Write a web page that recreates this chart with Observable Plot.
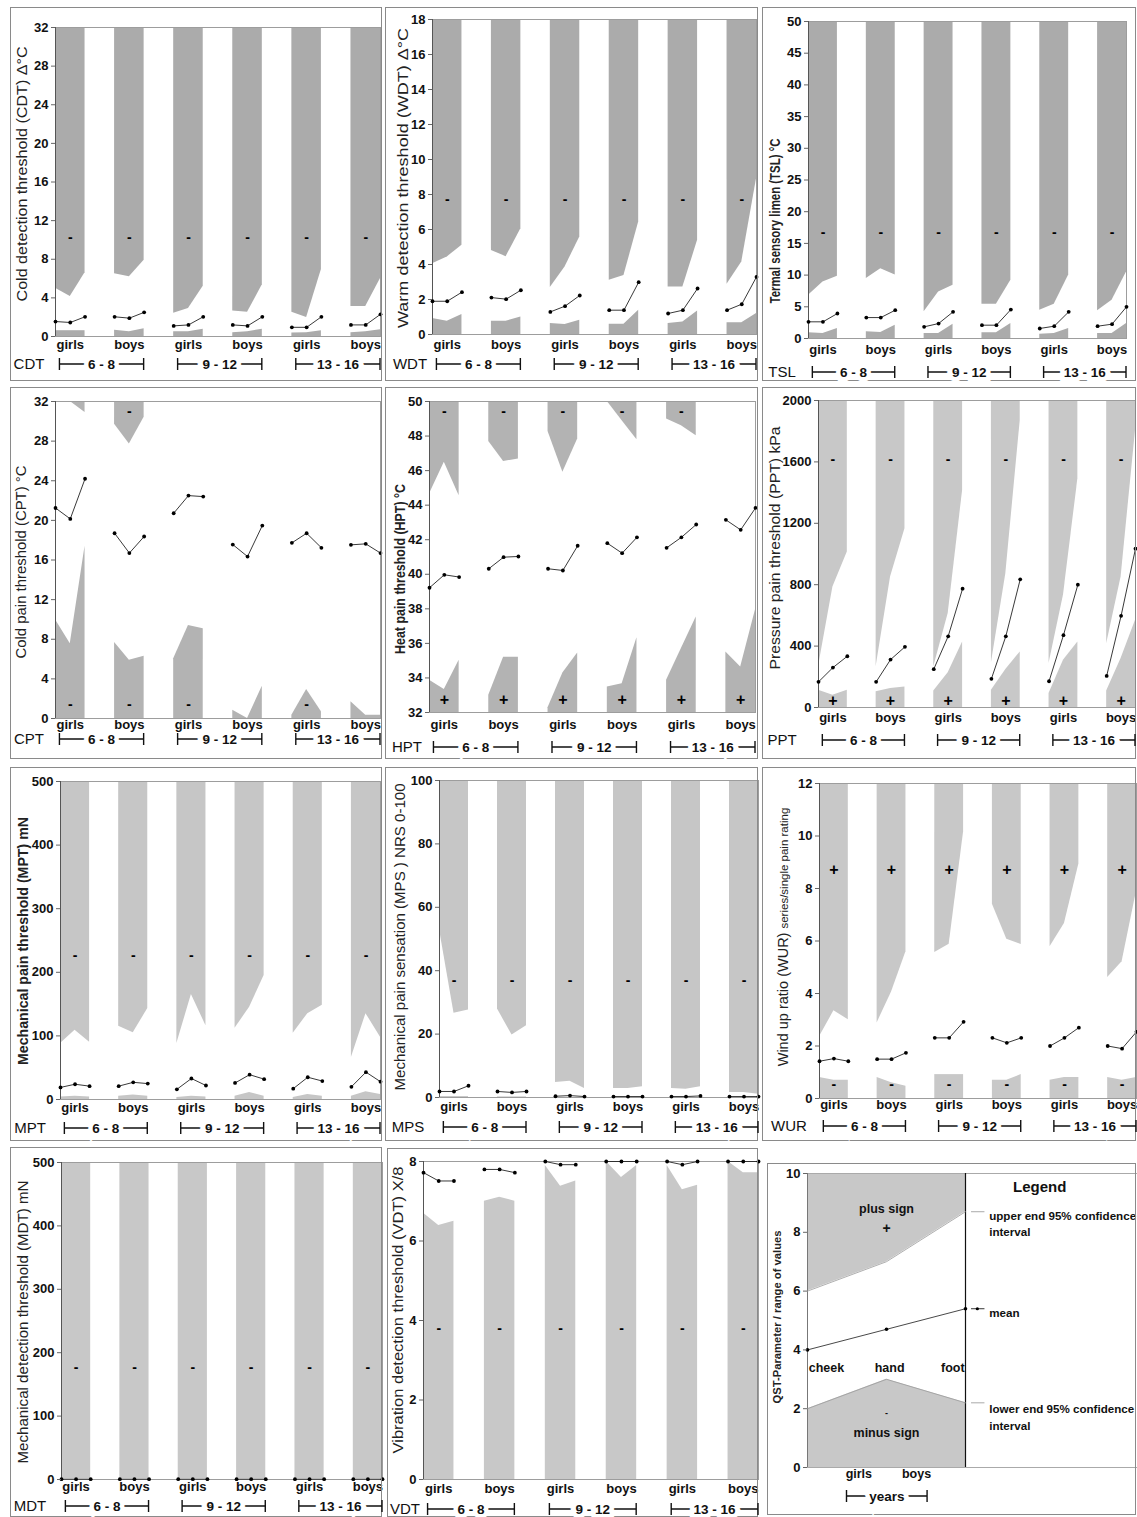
<!DOCTYPE html>
<html><head><meta charset="utf-8">
<script src="https://cdn.jsdelivr.net/npm/d3@7"></script>
<script src="https://cdn.jsdelivr.net/npm/@observablehq/plot@0.6"></script>
<style>
body{margin:0;background:#fff;width:1137px;height:1517px;position:relative;overflow:hidden;font-family:"Liberation Sans",Arial,sans-serif}
svg.panel{position:absolute}
</style></head><body>
<script>
// ---------- categories ----------
const groupSex = ["girls","boys","girls","boys","girls","boys"];
const ageGroups = ["6 - 8","9 - 12","13 - 16"];
const sites = ["cheek","hand","foot"];

// ---------- data: 6 groups x (cheek, hand, foot) ----------
const CDT_upper = [5.0,4.15,6.6, 6.5,6.2,7.9, 2.4,2.9,5.2, 2.65,2.5,5.35, 2.5,1.97,6.95, 3.1,3.1,6.0];
const CDT_mean  = [1.55,1.45,2.04, 2.04,1.9,2.5, 1.1,1.2,2.04, 1.2,1.1,2.04, 0.95,0.95,2.04, 1.2,1.2,2.3];
const CDT_lower = [0.6,0.6,0.6, 0.65,0.5,0.8, 0.5,0.5,0.75, 0.4,0.5,0.75, 0.35,0.4,0.6, 0.4,0.5,0.7];
const CDT_ticks = [0,4,8,12,16,20,24,28,32];
const CDT_minus = 10.3;

const WDT_upper = [4.05,4.43,5.1, 4.8,4.45,6.05, 2.68,3.86,5.57, 3.1,3.37,6.43, 2.72,2.72,5.38, 2.87,4.15,8.9];
const WDT_mean  = [1.9,1.9,2.42, 2.11,2.02,2.53, 1.29,1.62,2.23, 1.39,1.39,2.99, 1.2,1.39,2.63, 1.39,1.73,3.29];
const WDT_lower = [0.91,0.76,1.14, 0.76,0.76,1.0, 0.63,0.57,0.82, 0.59,0.59,1.39, 0.63,0.72,1.35, 0.67,0.67,1.2];
const WDT_ticks = [0,2,4,6,8,10,12,14,16,18];
const WDT_minus = 7.72;

const TSL_upper = [6.83,8.9,9.8, 9.45,11.0,10.0, 4.2,7.35,8.4, 5.4,5.4,9.2, 4.46,5.4,10.0, 4.36,6.04,10.5];
const TSL_mean  = [2.63,2.63,3.94, 3.3,3.3,4.46, 1.84,2.36,4.2, 2.1,2.1,4.57, 1.58,1.94,4.2, 1.94,2.26,4.99];
const TSL_lower = [0.9,0.8,1.58, 1.05,0.95,2.1, 0.8,0.8,2.26, 0.9,0.9,2.36, 0.68,0.8,1.58, 0.8,0.8,2.36];
const TSL_ticks = [0,5,10,15,20,25,30,35,40,45,50];
const TSL_minus = 16.7;

const CPT_upper = [32,32,30.9, 29.7,27.7,30.4, 32,32,32, 32,32,32, 32,32,32, 32,32,32];
const CPT_mean  = [21.25,20.15,24.2, 18.7,16.7,18.37, 20.72,22.5,22.4, 17.56,16.35,19.48, 17.73,18.7,17.23, 17.53,17.63,16.7];
const CPT_lower = [9.97,7.55,17.4, 7.66,5.88,6.28, 6.04,9.4,9.07, 0.84,0,3.26, 0.34,2.92,0.67, 1.68,0.34,0.34];
const CPT_ticks = [0,4,8,12,16,20,24,28,32];
const CPT_minusLow = 1.44, CPT_minusTop = 31.0;

const HPT_upper = [44.65,46.48,44.55, 47.69,46.53,46.67, 48.27,45.9,47.83, 50,48.88,47.79, 48.98,48.6,48.02, 50,50,50];
const HPT_mean  = [39.22,39.97,39.84, 40.32,40.99,41.03, 40.32,40.22,41.65, 41.8,41.22,42.14, 41.53,42.14,42.88, 43.15,42.57,43.84];
const HPT_lower = [33.87,33.33,35.02, 33.0,35.2,35.2, 32.27,34.29,35.45, 33.48,33.67,36.33, 33.87,35.7,37.53, 35.5,34.64,37.95];
const HPT_ticks = [32,34,36,38,40,42,44,46,48,50];
const HPT_minus = 49.4, HPT_plus = 32.75;

const PPT_upper = [265,785,1013, 265,850,1165, 265,612,1414, 290,872,1870, 286,731,1490, 416,850,1805];
const PPT_mean  = [167,260,334, 167,312,395, 250,464,774, 187,464,835, 171,471,800, 206,597,1035];
const PPT_lower = [113,80,113, 102,124,134, 108,226,427, 113,247,362, 91,308,427, 108,319,568];
const PPT_ticks = [0,400,800,1200,1600,2000];
const PPT_minus = 1616, PPT_plus = 41;

const MPT_upper = [88,109,90, 115,105,143, 88,165,116, 112,145,195, 104,135,148, 66,135,98];
const MPT_mean  = [19,24,21, 21,27,25, 16,33,22, 26,39,32, 17,35,29, 20,43,28];
const MPT_lower = [4,5,4, 5,7,5, 3,5,4, 5,11,5, 3,8,5, 5,12,8];
const MPT_ticks = [0,100,200,300,400,500];
const MPT_minus = 226;

const MPS_upper = [53,26.6,27.6, 27.9,19.7,22.6, 4.7,5.1,2.8, 2.8,2.8,3.4, 2.8,2.6,3.4, 1.6,1.6,1.0];
const MPS_mean  = [1.9,1.9,3.7, 1.9,1.6,1.9, 0.4,0.6,0.3, 0.3,0.3,0.3, 0.3,0.3,0.5, 0.3,0.3,0.3];
const MPS_lower = [0.3,0.3,0.3, 0.2,0.2,0.2, 0,0,0, 0,0,0, 0,0,0, 0,0,0];
const MPS_ticks = [0,20,40,60,80,100];
const MPS_minus = 36.8;

const WUR_upper = [2.35,3.34,3.0, 2.88,4.06,5.59, 5.56,5.88,10.16, 7.4,6.07,5.87, 5.78,6.67,8.93, 4.61,5.21,7.9];
const WUR_mean  = [1.42,1.52,1.42, 1.5,1.5,1.74, 2.31,2.31,2.92, 2.31,2.12,2.31, 2.0,2.31,2.7, 2.0,1.9,2.54];
const WUR_lower = [0.8,0.7,0.7, 0.8,0.6,0.47, 0.91,0.91,0.91, 0.7,0.7,0.91, 0.7,0.8,0.8, 0.8,0.7,0.8];
const WUR_ticks = [0,2,4,6,8,10,12];
const WUR_plus = 8.72, WUR_minus = 0.55;

const MDT_upper = [1,1,1, 1,1,1, 1,1,1, 1,1,1, 1,1,1, 1,1,1];
const MDT_mean  = [0.5,0.5,0.5, 0.5,0.5,0.5, 0.5,0.5,0.5, 0.5,0.5,0.5, 0.5,0.5,0.5, 0.5,0.5,0.5];
const MDT_lower = [0,0,0, 0,0,0, 0,0,0, 0,0,0, 0,0,0, 0,0,0];
const MDT_ticks = [0,100,200,300,400,500];
const MDT_minus = 176;

const VDT_upper = [8,8,8, 8,8,8, 8,8,8, 8,8,8, 8,8,8, 8,8,8];
const VDT_mean  = [7.72,7.51,7.51, 7.8,7.8,7.72, 8.0,7.92,7.92, 8.0,8.0,8.0, 8.0,7.92,8.0, 8.0,8.0,8.0];
const VDT_lower = [6.70,6.39,6.5, 7.0,7.1,7.0, 7.9,7.38,7.51, 8.0,7.6,7.9, 7.9,7.29,7.4, 8.0,7.72,7.72];
const VDT_ticks = [0,2,4,6,8];
const VDT_minus = 3.81;

const LEG_upper = [6,7,8.7];
const LEG_mean  = [4,4.7,5.4];
const LEG_lower = [2,3,2.2];
const LEG_ticks = [0,2,4,6,8,10];

// ---------- panel layout ----------
const ALL = [0,1,2,3,4,5];
const panels = [
 {key:"CDT", label:"Cold detection threshold (CDT) Δ°C", len:255, lx:22, ly:174,
  box:[10,7,372,374], area:[55,27,380,336], domain:[0,32], ticks:CDT_ticks, fill:"#ababab",
  upper:CDT_upper, mean:CDT_mean, lower:CDT_lower,
  signs:[{t:"-", y:CDT_minus, g:ALL}], sexY:348, brY:364, sideX:29},
 {key:"WDT", label:"Warm detection threshold (WDT) Δ°C", len:300, lx:403, ly:178,
  box:[385,7,373,374], area:[432,19,756,334], domain:[0,18], ticks:WDT_ticks, fill:"#ababab",
  upper:WDT_upper, mean:WDT_mean, lower:WDT_lower,
  signs:[{t:"-", y:WDT_minus, g:ALL}], sexY:348, brY:364, sideX:410},
 {key:"TSL", label:"Termal sensory limen (TSL) °C", len:165, lx:775, ly:221, bold:true,
  box:[762,7,374,374], area:[808,21,1126,338], domain:[0,50], ticks:TSL_ticks, fill:"#ababab",
  upper:TSL_upper, mean:TSL_mean, lower:TSL_lower,
  signs:[{t:"-", y:TSL_minus, g:ALL}], sexY:353, brY:372, sideX:782},
 {key:"CPT", label:"Cold pain threshold (CPT) °C", len:193, lx:21, ly:562,
  box:[10,387,372,372], area:[55,401,380,718], domain:[0,32], ticks:CPT_ticks, fill:"#b3b3b3",
  upper:CPT_upper, mean:CPT_mean, lower:CPT_lower,
  signs:[{t:"-", y:CPT_minusLow, g:[0,1,2,4]}, {t:"-", y:CPT_minusTop, g:[1]}], sexY:728, brY:739, sideX:29},
 {key:"HPT", label:"Heat pain threshold (HPT) °C", len:170, lx:400, ly:569, bold:true,
  box:[385,387,373,372], area:[429,401,755,712], domain:[32,50], ticks:HPT_ticks, fill:"#b3b3b3",
  upper:HPT_upper, mean:HPT_mean, lower:HPT_lower,
  signs:[{t:"-", y:HPT_minus, g:[0,1,2,3,4]}, {t:"+", y:HPT_plus, g:ALL}], sexY:728, brY:747, sideX:407},
 {key:"PPT", label:"Pressure pain threshold (PPT) kPa", len:243, lx:775, ly:548,
  box:[762,387,374,372], area:[818,400,1135,707], domain:[0,2000], ticks:PPT_ticks, fill:"#c8c8c8",
  upper:PPT_upper, mean:PPT_mean, lower:PPT_lower,
  signs:[{t:"-", y:PPT_minus, g:ALL}, {t:"+", y:PPT_plus, g:ALL}], sexY:721, brY:740, sideX:782},
 {key:"MPT", label:"Mechanical pain threshold (MPT) mN", len:248, lx:23, ly:941, bold:true,
  box:[10,767,372,374], area:[60,781,380,1099], domain:[0,500], ticks:MPT_ticks, fill:"#c6c6c6",
  upper:MPT_upper, mean:MPT_mean, lower:MPT_lower,
  signs:[{t:"-", y:MPT_minus, g:ALL}], sexY:1111, brY:1128, sideX:30},
 {key:"MPS", label:"Mechanical pain sensation (MPS ) NRS 0-100", len:307, lx:400, ly:937,
  box:[385,767,373,374], area:[439,780,758,1097], domain:[0,100], ticks:MPS_ticks, fill:"#c6c6c6",
  upper:MPS_upper, mean:MPS_mean, lower:MPS_lower,
  signs:[{t:"-", y:MPS_minus, g:ALL}], sexY:1110, brY:1127, sideX:408},
 {key:"WUR", label:null, len:287, lx:784, ly:937,
  box:[762,767,374,374], area:[819,783,1136,1098], domain:[0,12], ticks:WUR_ticks, fill:"#c8c8c8",
  upper:WUR_upper, mean:WUR_mean, lower:WUR_lower,
  signs:[{t:"+", y:WUR_plus, g:ALL}, {t:"-", y:WUR_minus, g:ALL}], sexY:1108, brY:1126, sideX:789},
 {key:"MDT", label:"Mechanical detection threshold (MDT) mN", len:283, lx:23, ly:1322,
  box:[10,1147,372,370], area:[61,1162,382,1479], domain:[0,500], ticks:MDT_ticks, fill:"#c8c8c8",
  upper:MDT_upper, mean:MDT_mean, lower:MDT_lower,
  signs:[{t:"-", y:MDT_minus, g:ALL}], sexY:1490, brY:1506, sideX:30},
 {key:"VDT", label:"Vibration detection threshold (VDT) X/8", len:287, lx:398, ly:1310,
  box:[387,1148,371,369], area:[423,1161,758,1479], domain:[0,8], ticks:VDT_ticks, fill:"#c8c8c8",
  upper:VDT_upper, mean:VDT_mean, lower:VDT_lower,
  signs:[{t:"-", y:VDT_minus, g:ALL}], sexY:1492, brY:1509, sideX:405}
];

const FONT = "'Liberation Sans', Arial, sans-serif";
const NARROW = "'Liberation Sans Narrow', 'Arial Narrow', 'Liberation Sans', Arial, sans-serif";

function bracket(sel, x0, x1, y, label) {
  sel.append("path").attr("d", `M${x0},${y-6}V${y+6}M${x0},${y}H${x1}M${x1},${y-6}V${y+6}`)
    .attr("stroke","#111").attr("stroke-width",1.4).attr("fill","none");
  sel.append("text").attr("x",(x0+x1)/2).attr("y",y).attr("dy","0.36em").attr("text-anchor","middle")
    .attr("font-family",FONT).attr("font-weight","bold").attr("font-size",13.5)
    .attr("stroke","#fff").attr("stroke-width",9).attr("paint-order","stroke").attr("fill","#111").text(label);
}

function renderPanel(c) {
  const [bx,by,bw,bh] = c.box, [al,at,ar,ab] = c.area;
  const rows = [];
  for (let g = 0; g < 6; g++) for (let s = 0; s < 3; s++) {
    const i = g*3 + s;
    rows.push({g, site: sites[s], pos: g*4 + s, upper: c.upper[i], mean: c.mean[i], lower: c.lower[i]});
  }
  const [y0, y1] = c.domain;
  const groups = d3.range(6).map(g => ({g, pos: g*4 + 1, sex: groupSex[g]}));
  const signRows = [];
  c.signs.forEach(s => s.g.forEach(g => signRows.push({pos: g*4 + 1, y: s.y, t: s.t})));
  const svg = Plot.plot({
    width: bw, height: bh,
    marginLeft: al - bx, marginRight: bx + bw - ar, marginTop: at - by, marginBottom: by + bh - ab,
    x: {domain: [0, 22], axis: null},
    y: {domain: c.domain},
    style: {fontFamily: FONT, background: "transparent", overflow: "visible"},
    marks: [
      Plot.areaY(rows, {x: "pos", y1: "upper", y2: y1, z: "g", fill: c.fill}),
      Plot.areaY(rows, {x: "pos", y1: y0, y2: "lower", z: "g", fill: c.fill}),
      Plot.frame({stroke: "#9d9d9d", strokeWidth: 1}),
      Plot.ruleX([0], {stroke: "#555", strokeWidth: 1}),
      Plot.line(rows, {x: "pos", y: "mean", z: "g", stroke: "#222", strokeWidth: 0.9}),
      Plot.dot(rows, {x: "pos", y: "mean", r: 1.9, fill: "#000", stroke: null}),
      Plot.text(signRows.filter(d => d.t === "-"), {x: "pos", y: "y", text: "t", fontWeight: "bold", fontSize: 14, fill: "#000"}),
      Plot.text(signRows.filter(d => d.t === "+"), {x: "pos", y: "y", text: "t", fontWeight: "bold", fontSize: 16, fill: "#000"}),
      Plot.text(groups, {x: "pos", text: "sex", frameAnchor: "bottom", dy: c.sexY - ab, fontWeight: "bold", fontSize: 13, fill: "#111"}),
      Plot.axisY({ticks: c.ticks, tickSize: 4, tickPadding: 3, fontSize: 13, fontWeight: "bold", fontFamily: NARROW, tickFormat: d => String(d), label: null, stroke: "#666", fill: "#111"})
    ]
  });
  svg.classList.add("panel");
  svg.style.left = bx + "px";
  svg.style.top = by + "px";
  document.body.appendChild(svg);
  const s = d3.select(svg);
  const xs = svg.scale("x");
  s.append("rect").attr("x",0.5).attr("y",0.5).attr("width",bw-1).attr("height",bh-1)
    .attr("fill","none").attr("stroke","#8a8a8a");
  const lab = s.append("text").attr("transform", `translate(${c.lx - bx},${c.ly - by}) rotate(-90)`)
    .attr("text-anchor","middle").attr("dy","0.35em").attr("font-family",FONT).attr("fill","#222");
  if (c.label) {
    lab.attr("font-size",14).attr("font-weight", c.bold ? "bold" : null)
      .attr("textLength", c.len).attr("lengthAdjust","spacingAndGlyphs").text(c.label);
  } else {
    lab.append("tspan").attr("font-size",14.5).text("Wind up ratio (WUR) ");
    lab.append("tspan").attr("font-size",11.5).text("series/single pain rating");
  }
  s.append("text").attr("x", c.sideX - bx).attr("y", c.brY - by).attr("dy","0.36em").attr("text-anchor","middle")
    .attr("font-family",FONT).attr("font-size",15).attr("fill","#111").text(c.key);
  ageGroups.forEach((a, k) => {
    bracket(s, xs.apply(k*8 + 0.3), xs.apply(k*8 + 6), c.brY - by, a);
  });
}

panels.forEach(renderPanel);

// ---------- legend panel ----------
(function () {
  const box = [767,1163,369,352];
  const area = [807,1173,965,1467];
  const [bx,by,bw,bh] = box, [al,at,ar,ab] = area;
  const rows = sites.map((site, s) => ({site, pos: s, upper: LEG_upper[s], mean: LEG_mean[s], lower: LEG_lower[s]}));
  const legendText = [
    {x: 2.3, y: 8.54, t: "upper end 95% confidence"},
    {x: 2.3, y: 7.99, t: "interval"},
    {x: 2.3, y: 5.24, t: "mean"},
    {x: 2.3, y: 1.97, t: "lower end 95% confidence"},
    {x: 2.3, y: 1.39, t: "interval"}
  ];
  const inner = [
    {x: 1, y: 8.78, t: "plus sign"},
    {x: 1, y: 1.16, t: "minus sign"},
    {x: 0.24, y: 3.37, t: "cheek"},
    {x: 1.04, y: 3.37, t: "hand"},
    {x: 1.84, y: 3.37, t: "foot"}
  ];
  const svg = Plot.plot({
    width: bw, height: bh,
    marginLeft: al - bx, marginRight: bx + bw - ar, marginTop: at - by, marginBottom: by + bh - ab,
    x: {domain: [0, 2], axis: null},
    y: {domain: [0, 10]},
    style: {fontFamily: FONT, background: "transparent", overflow: "visible"},
    marks: [
      Plot.areaY(rows, {x: "pos", y1: "upper", y2: 10, fill: "#c8c8c8"}),
      Plot.areaY(rows, {x: "pos", y1: 0, y2: "lower", fill: "#c8c8c8"}),
      Plot.ruleY([0, 10], {x1: 0, x2: 4.34, stroke: "#aaa"}),
      Plot.ruleX([0], {stroke: "#777"}),
      Plot.ruleX([2], {stroke: "#111", strokeWidth: 1.2}),
      Plot.line(rows, {x: "pos", y: "upper", stroke: "#9a9a9a", strokeWidth: 0.8}),
      Plot.line(rows, {x: "pos", y: "lower", stroke: "#9a9a9a", strokeWidth: 0.8}),
      Plot.line(rows, {x: "pos", y: "mean", stroke: "#333", strokeWidth: 0.9}),
      Plot.dot(rows, {x: "pos", y: "mean", r: 1.8, fill: "#000", stroke: null}),
      Plot.link([{y: LEG_upper[2]}, {y: LEG_lower[2]}], {x1: 2.07, x2: 2.24, y1: "y", y2: "y", stroke: "#aaa", strokeWidth: 1}),
      Plot.link([{y: LEG_mean[2]}], {x1: 2.07, x2: 2.24, y1: "y", y2: "y", stroke: "#333", strokeWidth: 1}),
      Plot.dot([{y: LEG_mean[2]}], {x: 2.15, y: "y", r: 1.6, fill: "#000", stroke: null}),
      Plot.text(legendText, {x: "x", y: "y", text: "t", textAnchor: "start", fontWeight: "bold", fontSize: 11.6, fill: "#111"}),
      Plot.text(inner, {x: "x", y: "y", text: "t", fontWeight: "bold", fontSize: 12.5, fill: "#111"}),
      Plot.text([{x: 1, y: 8.13, t: "+"}], {x: "x", y: "y", text: "t", fontWeight: "bold", fontSize: 14, fill: "#111"}),
      Plot.text([{x: 1, y: 1.85, t: "-"}], {x: "x", y: "y", text: "t", fontWeight: "bold", fontSize: 9, fill: "#111"}),
      Plot.text([{x: 2.94, y: 9.52, t: "Legend"}], {x: "x", y: "y", text: "t", fontWeight: "bold", fontSize: 15, fill: "#111"}),
      Plot.text([{x: 0.65, t: "girls"}, {x: 1.38, t: "boys"}], {x: "x", text: "t", frameAnchor: "bottom", dy: 10, fontWeight: "bold", fontSize: 12.5, fill: "#111"}),
      Plot.axisY({ticks: LEG_ticks, tickSize: 4, tickPadding: 3, fontSize: 13, fontWeight: "bold", fontFamily: NARROW, label: null, stroke: "#666", fill: "#111"})
    ]
  });
  svg.classList.add("panel");
  svg.style.left = bx + "px";
  svg.style.top = by + "px";
  document.body.appendChild(svg);
  const s = d3.select(svg);
  const xs = svg.scale("x");
  s.append("rect").attr("x",0.5).attr("y",0.5).attr("width",bw-1).attr("height",bh-1)
    .attr("fill","none").attr("stroke","#8a8a8a");
  s.append("text").attr("transform", `translate(${777 - bx},${1317 - by}) rotate(-90)`)
    .attr("text-anchor","middle").attr("dy","0.35em").attr("font-family",FONT).attr("font-weight","bold")
    .attr("font-size",10.5).attr("textLength",173).attr("lengthAdjust","spacingAndGlyphs").attr("fill","#222")
    .text("QST-Parameter / range of values");
  bracket(s, xs.apply(0.5), xs.apply(1.52), 1496 - by, "years");
})();
</script>
</body></html>
